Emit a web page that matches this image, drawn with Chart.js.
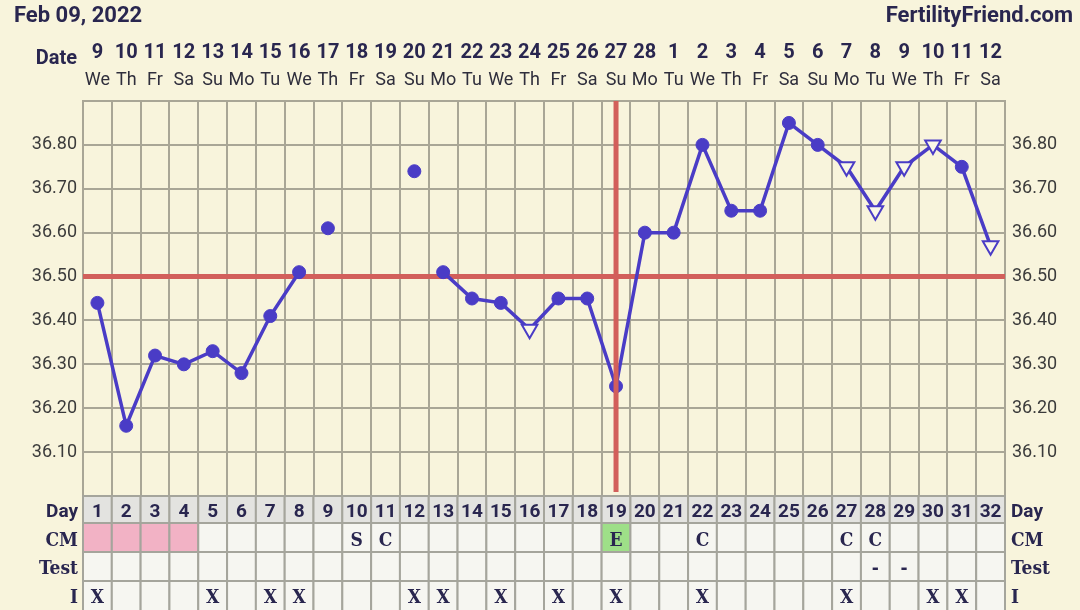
<!DOCTYPE html>
<html>
<head>
<meta charset="utf-8">
<title>BBT chart</title>
<script src="https://cdn.jsdelivr.net/npm/chart.js@4.4.1/dist/chart.umd.min.js"></script>
<style>
  html, body { margin: 0; padding: 0; background: #f8f4dc; }
  #wrap { width: 1080px; height: 610px; }
</style>
</head>
<body>
<div id="wrap"><canvas id="bbt" width="1080" height="610"></canvas></div>
<script>
// --- chart data ---
const chartTitle = 'Feb 09, 2022';
const siteName = 'FertilityFriend.com';

const cycleDays = ['1','2','3','4','5','6','7','8','9','10','11','12','13','14','15','16',
                   '17','18','19','20','21','22','23','24','25','26','27','28','29','30','31','32'];
const dateNumbers = ['9','10','11','12','13','14','15','16','17','18','19','20','21','22','23','24',
                     '25','26','27','28','1','2','3','4','5','6','7','8','9','10','11','12'];
const weekdays = ['We','Th','Fr','Sa','Su','Mo','Tu','We','Th','Fr','Sa','Su','Mo','Tu','We','Th',
                  'Fr','Sa','Su','Mo','Tu','We','Th','Fr','Sa','Su','Mo','Tu','We','Th','Fr','Sa'];

// temperatures (°C); null = not connected / not recorded
const temps = [36.44, 36.16, 36.32, 36.30, 36.33, 36.28, 36.41, 36.51, null, null, null, null,
               36.51, 36.45, 36.44, 36.38, 36.45, 36.45, 36.25, 36.60, 36.60, 36.80, 36.65, 36.65,
               36.85, 36.80, 36.75, 36.65, 36.75, 36.80, 36.75, 36.57];
// discarded temps, shown as loose dots
const discardedTemps = [null, null, null, null, null, null, null, null, 36.61, null, null, 36.74,
                        null, null, null, null, null, null, null, null, null, null, null, null,
                        null, null, null, null, null, null, null, null];
// days whose temp was taken at a different time (open triangles)
const openTriangleDays = ['16', '27', '28', '29', '30', '32'];

const coverline = 36.50;
const ovulationDay = '19';

const yTicksLabelled = [36.10, 36.20, 36.30, 36.40, 36.50, 36.60, 36.70, 36.80];

// cervical mucus row
const cmCodes = ['', '', '', '', '', '', '', '', '', 'S', 'C', '', '', '', '', '',
                 '', '', 'E', '', '', 'C', '', '', '', '', 'C', 'C', '', '', '', ''];
const cmShades = ['period', 'period', 'period', 'period', '', '', '', '', '', '', '', '', '', '', '', '',
                  '', '', 'eggwhite', '', '', '', '', '', '', '', '', '', '', '', '', ''];
const testMarks = ['', '', '', '', '', '', '', '', '', '', '', '', '', '', '', '',
                   '', '', '', '', '', '', '', '', '', '', '', '-', '-', '', '', ''];
const intercourse = ['X', '', '', '', 'X', '', 'X', 'X', '', '', '', 'X', 'X', '', 'X', '',
                     'X', '', 'X', '', '', 'X', '', '', '', '', 'X', '', '', 'X', 'X', ''];

// --- theme ---
const t = {
  purple: '#4a3cc6',
  red: '#d25f5b',
  grid: '#a9a696',
  hollow: '#fbf8e8',
  ink: '#29264f',
  axisText: '#3b3b3b',
  dayRowBg: '#e3e3e0',
  cellBg: '#f6f6f1',
  cellBorder: '#a5a59c',
  period: '#f2b2c5',
  eggwhite: '#9edf88',
  sans: "Roboto, 'Noto Sans', sans-serif",
  slab: "'DejaVu Serif Condensed', 'DejaVu Serif', serif"
};

const isOpen = ctx => openTriangleDays.includes(cycleDays[ctx.dataIndex]);

// draws coverline, ovulation line, date header and the bottom table
const fertilityOverlay = {
  id: 'fertilityOverlay',
  beforeDatasetsDraw(chart) {
    const { ctx, chartArea: a, scales } = chart;
    const y = scales.y.getPixelForValue(coverline);
    ctx.save();
    ctx.strokeStyle = t.red;
    ctx.lineWidth = 5;
    ctx.beginPath();
    ctx.moveTo(a.left, y);
    ctx.lineTo(a.right, y);
    ctx.stroke();
    ctx.restore();
  },
  afterDatasetsDraw(chart) {
    const { ctx, chartArea: a, scales } = chart;
    const x = scales.x.getPixelForValue(cycleDays.indexOf(ovulationDay));
    ctx.save();
    ctx.strokeStyle = t.red;
    ctx.lineWidth = 5;
    ctx.beginPath();
    ctx.moveTo(x, a.top);
    ctx.lineTo(x, a.bottom - 4);
    ctx.stroke();
    ctx.restore();
  },
  afterDraw(chart) {
    const { ctx, chartArea: a, scales } = chart;
    const xs = scales.x;
    const colW = (a.right - a.left) / cycleDays.length;
    ctx.save();

    // titles
    ctx.fillStyle = t.ink;
    ctx.font = 'bold 22px ' + t.sans;
    ctx.textAlign = 'left';
    ctx.fillText(chartTitle, 14, 22);
    ctx.textAlign = 'right';
    ctx.fillText(siteName, 1073, 22);

    // date header
    ctx.font = 'bold 20px ' + t.sans;
    ctx.fillText('Date', 77, 64);
    ctx.textAlign = 'center';
    cycleDays.forEach((d, i) => {
      const x = xs.getPixelForValue(i);
      ctx.fillStyle = t.ink;
      ctx.font = 'bold 20px ' + t.sans;
      ctx.fillText(dateNumbers[i], x, 58);
      ctx.fillStyle = '#2f2e3c';
      ctx.font = '18px ' + t.sans;
      ctx.fillText(weekdays[i], x, 85);
    });

    // table rows
    const rows = [
      { name: 'Day', top: a.bottom, h: 27, base: 517, font: 'bold 19px ' + t.sans },
      { name: 'CM', top: a.bottom + 27, h: 29, base: 546, font: 'bold 19px ' + t.slab },
      { name: 'Test', top: a.bottom + 56, h: 29, base: 574, font: 'bold 19px ' + t.slab },
      { name: 'I', top: a.bottom + 85, h: 30, base: 603, font: 'bold 19px ' + t.slab }
    ];
    rows.forEach((row, r) => {
      cycleDays.forEach((d, i) => {
        const left = xs.getPixelForValue(i) - colW / 2;
        let bg = r === 0 ? t.dayRowBg : t.cellBg;
        if (r === 1 && cmShades[i]) bg = t[cmShades[i]];
        ctx.fillStyle = bg;
        ctx.fillRect(left, row.top, colW, row.h);
        ctx.strokeStyle = t.cellBorder;
        ctx.lineWidth = 2;
        ctx.strokeRect(left, row.top, colW, row.h);
      });
    });
    rows.forEach((row, r) => {
      const texts = [cycleDays, cmCodes, testMarks, intercourse][r];
      ctx.fillStyle = t.ink;
      ctx.font = r === 0 ? 'bold 19px ' + t.sans : 'bold 19px ' + t.slab;
      ctx.textAlign = 'center';
      texts.forEach((s, i) => {
        if (s) ctx.fillText(s, xs.getPixelForValue(i), row.base);
      });
      ctx.font = row.font;
      ctx.textAlign = 'right';
      ctx.fillText(row.name, 78, row.base);
      ctx.textAlign = 'left';
      ctx.fillText(row.name, 1011, row.base);
    });
    ctx.restore();
  }
};

const yTickLabel = value => {
  const hit = yTicksLabelled.find(v => Math.abs(v - value) < 0.001);
  return hit ? hit.toFixed(2) : '';
};

new Chart(document.getElementById('bbt'), {
  type: 'line',
  data: {
    labels: cycleDays,
    datasets: [
      {
        label: 'Temperature',
        data: temps,
        borderColor: t.purple,
        borderWidth: 3.5,
        spanGaps: false,
        tension: 0,
        clip: false,
        pointStyle: ctx => isOpen(ctx) ? 'triangle' : 'circle',
        pointRotation: ctx => isOpen(ctx) ? 180 : 0,
        pointRadius: ctx => isOpen(ctx) ? 9 : 6.5,
        pointBackgroundColor: ctx => isOpen(ctx) ? t.hollow : t.purple,
        pointBorderColor: t.purple,
        pointBorderWidth: ctx => isOpen(ctx) ? 2 : 1
      },
      {
        label: 'Discarded',
        data: discardedTemps,
        showLine: false,
        clip: false,
        pointStyle: 'circle',
        pointRadius: 6.5,
        pointBackgroundColor: t.purple,
        pointBorderColor: t.purple
      }
    ]
  },
  options: {
    responsive: false,
    animation: false,
    events: [],
    layout: { padding: { top: 101, bottom: 114, left: 0, right: 0 } },
    plugins: {
      legend: { display: false },
      tooltip: { enabled: false }
    },
    scales: {
      x: {
        offset: true,
        grid: { offset: true, color: t.grid, lineWidth: 2, drawTicks: false },
        border: { color: t.grid, width: 2 },
        ticks: { display: false },
        afterFit: s => { s.height = 0; }
      },
      y: {
        position: 'left',
        min: 36.0,
        max: 36.9,
        grid: { color: t.grid, lineWidth: 2, drawTicks: false },
        border: { color: t.grid, width: 2 },
        ticks: {
          stepSize: 0.05,
          padding: 6,
          color: t.axisText,
          font: { family: t.sans, size: 18 },
          callback: yTickLabel
        },
        afterFit: s => { s.width = 83; }
      },
      y2: {
        position: 'right',
        min: 36.0,
        max: 36.9,
        grid: { display: false, drawTicks: false },
        border: { color: t.grid, width: 2 },
        ticks: {
          stepSize: 0.05,
          padding: 7,
          color: t.axisText,
          font: { family: t.sans, size: 18 },
          callback: yTickLabel
        },
        afterFit: s => { s.width = 75; }
      }
    }
  },
  plugins: [fertilityOverlay]
});
</script>
</body>
</html>
